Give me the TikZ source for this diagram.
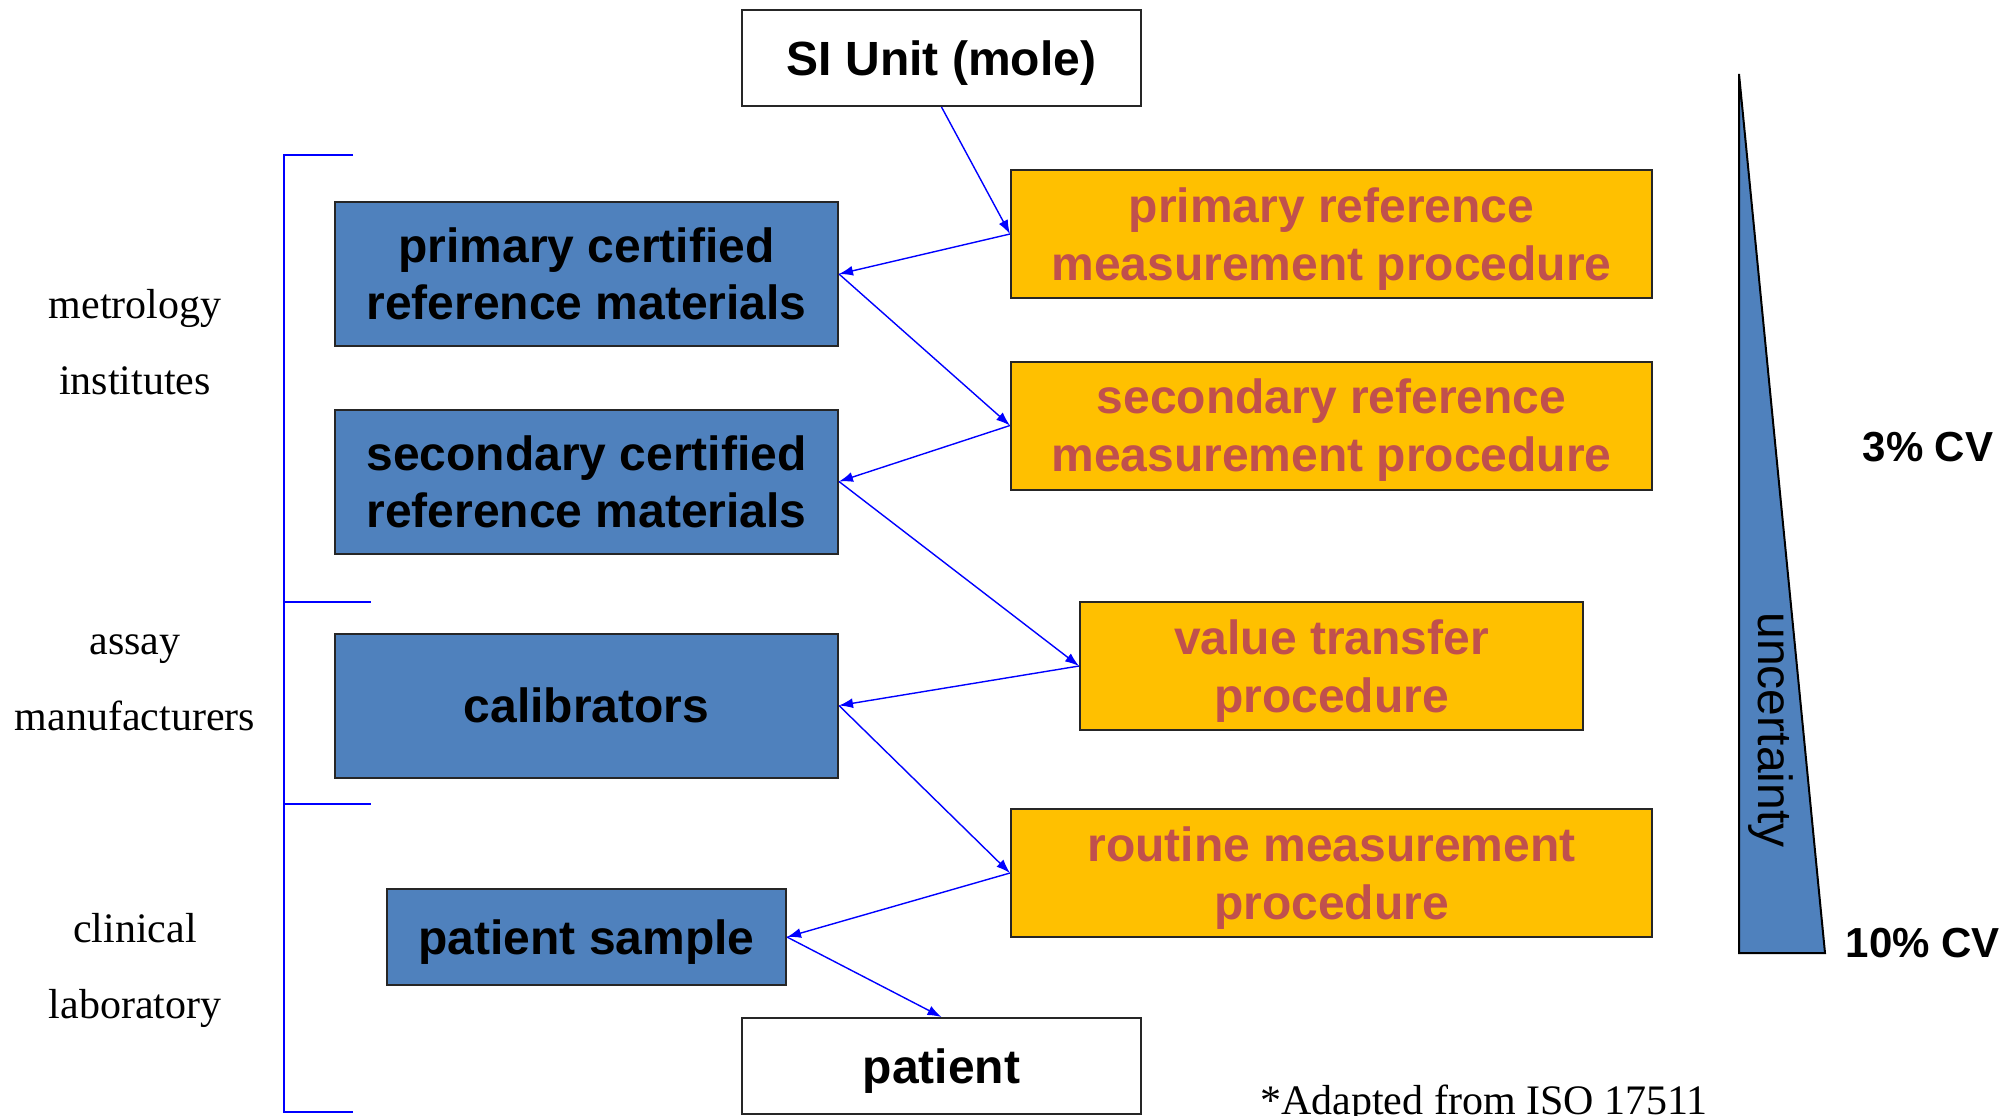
\documentclass[tikz,border=0pt]{standalone}
\usepackage{fontspec}
\setmainfont{Liberation Serif}
\setsansfont{Liberation Sans}
\usepackage{xcolor}
\usepackage{tikz}
\usetikzlibrary{
    positioning,
    arrows.meta
}
\definecolor{matblue}{HTML}{4F81BD}
\definecolor{procorange}{HTML}{FFC000}
\definecolor{proctext}{HTML}{C0504D}
\definecolor{linkblue}{HTML}{0000FF}
\tikzset{
    material/.style={
        rectangle, draw=black!85, line width=1pt,
        fill=matblue, inner sep=0pt,
        minimum width=251.5pt, minimum height=72pt,
        align=center,
        font=\sffamily\bfseries\fontsize{24}{28.5}\selectfont
    },
    procedure/.style={
        rectangle, draw=black!85, line width=1pt,
        fill=procorange, text=proctext, inner sep=0pt,
        minimum width=320.5pt, minimum height=64pt,
        align=center, text depth=-0.8pt,
        font=\sffamily\bfseries\fontsize{24}{29}\selectfont
    },
    endpoint/.style={
        rectangle, draw=black!85, line width=1pt,
        fill=white, inner sep=0pt,
        minimum width=199.5pt, minimum height=48pt,
        text height=17pt, text depth=0pt,
        font=\sffamily\bfseries\fontsize{24}{28.5}\selectfont
    },
    link/.style={
        -{Latex[length=7pt,width=5pt]}, draw=linkblue, line width=0.7pt
    },
    bracket/.style={
        draw=linkblue, line width=1pt
    },
    level/.style={
        align=center, font=\fontsize{21}{38}\selectfont
    },
    cvlabel/.style={
        font=\sffamily\bfseries\fontsize{21}{24}\selectfont
    }
}

\begin{document}
\begin{tikzpicture}[x=0.5pt, y=-0.5pt]
    \clip (0,0) rectangle (2004,1115);
    \fill[white] (0,0) rectangle (2004,1115);

    % hierarchy of materials and procedures
    \node[endpoint] (si_unit) at (941.5,58) {SI Unit (mole)};
    \node[material] (primary_crm) at (586.5,274) {primary certified\\reference materials};
    \node[material] (secondary_crm) at (586.5,481.5) {secondary certified\\reference materials};
    \node[material, text height=17pt, text depth=0pt] (calibrators) at (586.5,705.5) {calibrators};
    \node[material, minimum width=199.5pt, minimum height=48pt, text height=17pt, text depth=0pt] (patient_sample) at (586.5,937) {patient sample};
    \node[endpoint] (patient) at (941.5,1066) {patient};

    \node[procedure] (primary_rmp) at (1331.5,234) {primary reference\\measurement procedure};
    \node[procedure] (secondary_rmp) at (1331.5,425.5) {secondary reference\\measurement procedure};
    \node[procedure, minimum width=251.5pt] (transfer) at (1331.5,666) {value transfer\\procedure};
    \node[procedure] (routine) at (1331.5,873) {routine measurement\\procedure};

    \draw[link] (si_unit.south) -- (primary_rmp.west);
    \draw[link] (primary_rmp.west) -- (primary_crm.east);
    \draw[link] (primary_crm.east) -- (secondary_rmp.west);
    \draw[link] (secondary_rmp.west) -- (secondary_crm.east);
    \draw[link] (secondary_crm.east) -- (transfer.west);
    \draw[link] (transfer.west) -- (calibrators.east);
    \draw[link] (calibrators.east) -- (routine.west);
    \draw[link] (routine.west) -- (patient_sample.east);
    \draw[link] (patient_sample.east) -- (patient.north);

    % levels on the left
    \draw[bracket] (353,155) -- (284,155) -- (284,1112) -- (353,1112);
    \draw[bracket] (284,602) -- (371,602);
    \draw[bracket] (284,804) -- (371,804);
    \node[level] (metrology) at (135,342) {metrology\\institutes};
    \node[level] (assay) at (135,683) {assay\\manufacturers};
    \node[level] (clinical) at (135,970) {clinical\\laboratory};

    % uncertainty wedge
    \filldraw[fill=matblue, draw=black, line width=1pt] (1739,74) -- (1739,953) -- (1825,953) -- cycle;
    \node[rotate=-90, font=\sffamily\fontsize{24}{26}\selectfont] (uncertainty) at (1771,730) {uncertainty};
    \node[cvlabel] (cv_low) at (1928,447) {3\% CV};
    \node[cvlabel] (cv_high) at (1923,943) {10\% CV};

    \node[anchor=base, font=\fontsize{21}{24}\selectfont] (source) at (1484,1114) {*Adapted from ISO 17511};
\end{tikzpicture}
\end{document}
